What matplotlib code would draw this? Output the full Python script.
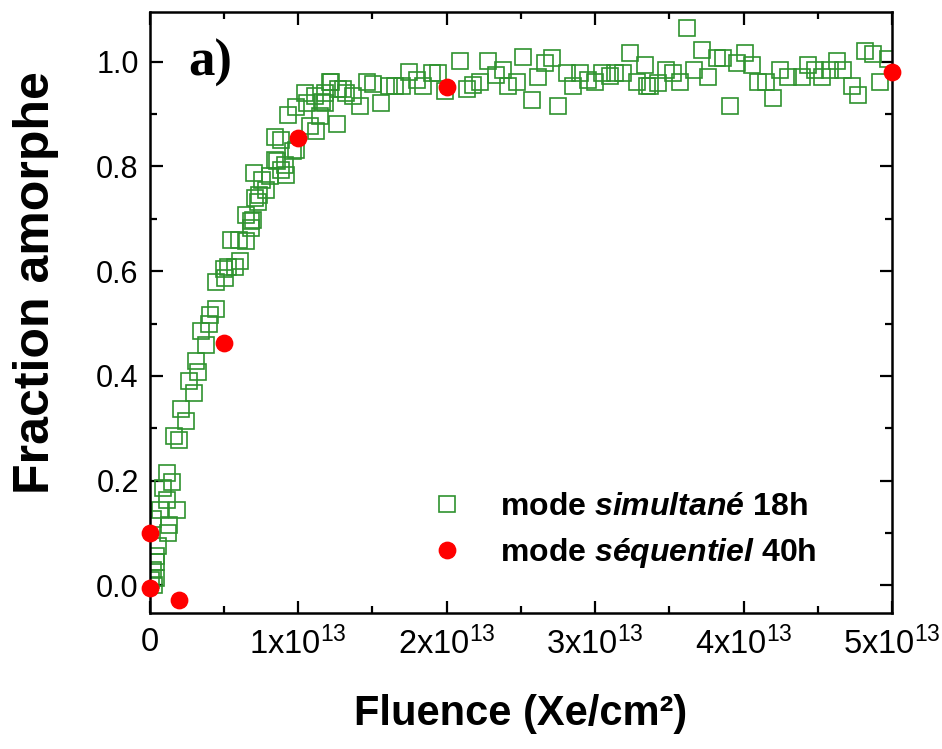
import matplotlib
matplotlib.use("Agg")
import matplotlib.pyplot as plt
from matplotlib.ticker import MultipleLocator
from matplotlib.lines import Line2D

# green squares: "mode simultané 18h" (fluence in units of 1e13 Xe/cm2)
simul_x = [0.01, 0.03, 0.02, 0.045, 0.04, 0.045, 0.056, 0.123, 0.022, 0.13,
           0.072, 0.18, 0.113, 0.09, 0.15, 0.117, 0.195, 0.164, 0.247, 0.213,
           0.296, 0.265, 0.326, 0.308, 0.377, 0.348, 0.40, 0.404, 0.449,
           0.449, 0.505, 0.499, 0.528, 0.573, 0.606, 0.55, 0.60, 0.647, 0.68,
           0.685, 0.647, 0.692, 0.708, 0.73, 0.737, 0.782, 0.753, 0.70, 0.809,
           0.917, 0.887, 0.854, 0.91, 0.842, 0.966, 0.984, 0.842, 0.887, 0.932,
           0.984, 1.056, 1.078, 1.123, 1.146, 1.044, 1.112, 1.157, 1.179,
           1.179, 1.213, 1.224, 1.263, 1.269, 1.303, 1.325, 1.37, 1.415, 1.46,
           1.505, 1.555, 1.61, 1.651, 1.696,
           1.747, 1.797, 1.842, 1.898, 1.943, 1.988, 2.089, 2.134, 2.178,
           2.227, 2.276, 2.332, 2.381, 2.415, 2.471, 2.516, 2.572, 2.617,
           2.662, 2.707, 2.752, 2.808, 2.853, 2.898, 2.954, 2.999, 3.043, 3.10,
           3.134, 3.19, 3.235, 3.28, 3.336, 3.347, 3.369, 3.426, 3.477, 3.526,
           3.571, 3.617, 3.666, 3.718, 3.762, 3.819, 3.863, 3.908, 3.953,
           4.009, 4.055, 4.099, 4.151, 4.196, 4.245, 4.301, 4.391, 4.436,
           4.481, 4.526, 4.582, 4.627, 4.672, 4.728, 4.773, 4.818, 4.874,
           4.919, 4.975]
simul_y = [0.01, 0.0, 0.03, 0.015, 0.044, 0.057, 0.076, 0.101, 0.126, 0.116,
           0.145, 0.145, 0.164, 0.186, 0.198, 0.215, 0.277, 0.286, 0.314, 0.336,
           0.368, 0.39, 0.407, 0.429, 0.46, 0.485, 0.50, 0.517, 0.527,
           0.579, 0.587, 0.604, 0.609, 0.609, 0.619, 0.659, 0.659, 0.657, 0.683,
           0.695, 0.708, 0.698, 0.74, 0.733, 0.746, 0.756, 0.775, 0.788, 0.782,
           0.784, 0.794, 0.81, 0.803, 0.813, 0.829, 0.832, 0.857, 0.851, 0.899,
           0.914, 0.921, 0.877, 0.867, 0.897, 0.94, 0.934, 0.924, 0.941,
           0.921, 0.962, 0.962, 0.882, 0.947, 0.947, 0.94, 0.934, 0.915, 0.962,
           0.958, 0.921, 0.953, 0.953, 0.953,
           0.98, 0.966, 0.953, 0.979, 0.979, 0.944, 1.001, 0.947, 0.955,
           0.962, 1.001, 0.975, 0.985, 0.953, 0.962, 1.009, 0.927, 0.97,
           0.998, 1.007, 0.915, 0.979, 0.953, 0.979, 0.966, 0.962, 0.979, 0.972,
           0.979, 0.979, 1.017, 0.962, 0.994, 0.953, 0.953, 0.96, 0.985, 0.979,
           0.962, 1.064, 0.985, 1.023, 0.97, 1.007, 1.007, 0.915, 0.998,
           1.017, 0.994, 0.962, 0.962, 0.931, 0.985, 0.97, 0.97, 0.994,
           0.985, 0.97, 0.985, 1.001, 0.985, 0.953, 0.937, 1.02, 1.014,
           0.962, 1.006]

# red circles: "mode séquentiel 40h"
seq_x = [0.0, 0.0, 0.2, 0.5, 1.0, 2.0, 5.0]
seq_y = [0.10, -0.005, -0.027, 0.462, 0.855, 0.952, 0.981]

x_ticks = [0, 1, 2, 3, 4, 5]
x_tick_labels = ['0', '1x10$^{13}$', '2x10$^{13}$', '3x10$^{13}$',
                 '4x10$^{13}$', '5x10$^{13}$']
y_ticks = [0.0, 0.2, 0.4, 0.6, 0.8, 1.0]

plt.rcParams['font.family'] = ['Liberation Sans', 'DejaVu Sans']
plt.rcParams['mathtext.fontset'] = 'custom'
plt.rcParams['mathtext.rm'] = 'Liberation Sans'
plt.rcParams['mathtext.it'] = 'Liberation Sans:italic:bold'
plt.rcParams['mathtext.bf'] = 'Liberation Sans:bold'

green = '#2f922f'
red = '#ff0000'

fig = plt.figure(figsize=(9.42, 7.49), dpi=100)
ax = fig.add_axes([0.159, 0.182, 0.788, 0.802])

ax.plot(simul_x, simul_y, linestyle='none', marker='s', markersize=11.3,
        markerfacecolor='none', markeredgecolor=green, markeredgewidth=1.2,
        zorder=2)
ax.plot(seq_x, seq_y, linestyle='none', marker='o', markersize=11.8,
        color=red, zorder=3, clip_on=False)

ax.set_xlim(0, 5)
ax.set_ylim(-0.052, 1.095)
ax.set_xticks(x_ticks)
ax.set_xticklabels(x_tick_labels)
ax.set_yticks(y_ticks)
ax.set_yticklabels([f'{v:.1f}' for v in y_ticks])
ax.xaxis.set_minor_locator(MultipleLocator(0.5))
ax.yaxis.set_minor_locator(MultipleLocator(0.1))

ax.tick_params(which='both', direction='in', top=True, right=True,
               width=1.6, labelsize=22)
ax.tick_params(which='major', length=9)
ax.tick_params(which='minor', length=5)
ax.tick_params(axis='x', pad=10, labelsize=23.5)
ax.tick_params(axis='y', pad=8)
for s in ax.spines.values():
    s.set_linewidth(1.8)

ax.set_xlabel('Fluence (Xe/cm²)', fontsize=30, fontweight='bold', labelpad=24)
ax.set_ylabel('Fraction amorphe', fontsize=36, fontweight='bold')
ax.yaxis.set_label_coords(-0.122, 0.549)

ax.text(0.052, 0.915, 'a)', transform=ax.transAxes, fontsize=38,
        fontweight='bold', family='Liberation Serif', va='center')

handles = [
    Line2D([], [], linestyle='none', marker='s', markersize=11.3,
           markerfacecolor='none', markeredgecolor=green, markeredgewidth=1.2),
    Line2D([], [], linestyle='none', marker='o', markersize=11.8, color=red),
]
labels = [r'mode $\mathit{simultané}$ 18h', r'mode $\mathit{séquentiel}$ 40h']
ax.legend(handles, labels, loc='center left', bbox_to_anchor=(0.379, 0.1355),
          frameon=False, prop={'size': 23, 'weight': 'bold'},
          handlelength=1.0, handletextpad=1.16, labelspacing=0.43,
          borderpad=0, borderaxespad=0)

fig.savefig('out.png', dpi=100)
